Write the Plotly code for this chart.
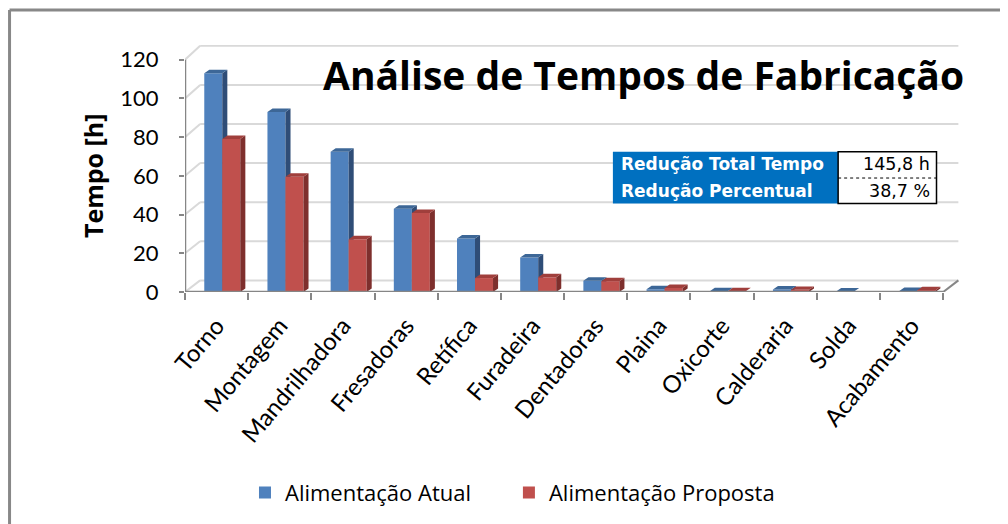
import plotly.graph_objects as go

# ---------------- data ----------------
categories = ["Torno", "Montagem", "Mandrilhadora", "Fresadoras", "Retífica", "Furadeira",
              "Dentadoras", "Plaina", "Oxicorte", "Calderaria", "Solda", "Acabamento"]
atual = [113, 93, 72.5, 43, 27.7, 17.8, 5.8, 1.4, 0.4, 1.3, 0.3, 0.5]
proposta = [79, 59.5, 27.3, 40.8, 7.2, 7.6, 5.6, 2.1, 0.4, 1.1, 0.0, 0.9]
y_ticks = [0, 20, 40, 60, 80, 100, 120]
series_names = ["Alimentação Atual", "Alimentação Proposta"]
summary_labels = ["Redução Total Tempo", "Redução Percentual"]
summary_values = ["145,8 h", "38,7 %"]
title_text = "Análise de Tempos de Fabricação"
y_title = "Tempo [h]"

# ---------------- geometry / style ----------------
W, H = 1008, 524
OFF = 8  # page body margin offset
L = 185 - OFF
T = 45.3 - OFF
BOTTOM_PX = 291.7 - OFF
RIGHT_PX = 959.2 - OFF
R = W - RIGHT_PX
B = H - BOTTOM_PX
PW, PH = W - L - R, H - T - B
X_RANGE = [-0.5, 11.75]
Y_RANGE = [0, 127.6]
BAR_W = 0.285
OFFS = [-0.195, 0.09]
DX, DY = 0.08, 1.8          # 3D depth of bars (data units)
WALL_DX, WALL_DY, WALL_K = 0.24, 6.0, 1.01

FONT = "Open Sans"
COLORS = {
    "front": ["#4F81BD", "#C0504D"],
    "top": ["#3D6797", "#A03F3C"],
    "side": ["#2F4D77", "#7E2F2D"],
}
AXIS_C = "#868686"
GRID_C = "#D9D9D9"
LEGENDS = ["legend", "legend2"]
LEGEND_X_PX = [245, 509]


def px_x(px):
    return (px - OFF - L) / PW


def px_y(py):
    return (H - B - (py - OFF)) / PH


idx = list(range(len(categories)))
fig = go.Figure()

for s, (vals, name) in enumerate(zip([atual, proposta], series_names)):
    xa = "x" if s == 0 else "x2"
    ya = "y" if s == 0 else "y2"
    side_x, side_y, top_x, top_y = [], [], [], []
    for i, v in zip(idx, vals):
        if v <= 0:
            continue
        x0 = i + OFFS[s]
        x1 = x0 + BAR_W
        side_x += [x1, x1 + DX, x1 + DX, x1, x1, None]
        side_y += [0, DY, v + DY, v, 0, None]
        top_x += [x0, x0 + DX, x1 + DX, x1, x0, None]
        top_y += [v, v + DY, v + DY, v, v, None]
    fig.add_trace(go.Bar(
        x=idx, y=vals, offset=OFFS[s], width=BAR_W, name=name,
        marker=dict(color=COLORS["front"][s], line=dict(width=0)),
        xaxis=xa, yaxis=ya, showlegend=True, legend=LEGENDS[s],
    ))
    fig.add_trace(go.Scatter(
        x=side_x, y=side_y, mode="lines", fill="toself", fillcolor=COLORS["side"][s],
        line=dict(width=0, color=COLORS["side"][s]), hoverinfo="skip", showlegend=False,
        xaxis=xa, yaxis=ya,
    ))
    fig.add_trace(go.Scatter(
        x=top_x, y=top_y, mode="lines", fill="toself", fillcolor=COLORS["top"][s],
        line=dict(width=0, color=COLORS["top"][s]), hoverinfo="skip", showlegend=False,
        xaxis=xa, yaxis=ya,
    ))

shapes = []
# back wall gridlines with diagonal connectors from the front axis
for v in y_ticks:
    yb = v * WALL_K + WALL_DY
    shapes.append(dict(type="line", xref="x", yref="y", x0=X_RANGE[0], y0=v,
                       x1=X_RANGE[0] + WALL_DX, y1=yb, line=dict(color=GRID_C, width=2), layer="below"))
    shapes.append(dict(type="line", xref="x", yref="y", x0=X_RANGE[0] + WALL_DX, y0=yb,
                       x1=11.5 + WALL_DX, y1=yb, line=dict(color=GRID_C, width=2), layer="below"))
# front floor edge + right diagonal
shapes.append(dict(type="line", xref="x", yref="y", x0=-0.5, y0=0, x1=11.5, y1=0,
                   line=dict(color=AXIS_C, width=2.5)))
shapes.append(dict(type="line", xref="x", yref="y", x0=11.5, y0=0, x1=11.5 + WALL_DX, y1=WALL_DY,
                   line=dict(color=AXIS_C, width=2)))
# vertical axis line
shapes.append(dict(type="line", xref="x", yref="y", x0=-0.5, y0=0, x1=-0.5, y1=max(y_ticks),
                   line=dict(color=AXIS_C, width=2.5)))
# outer frame (top and left)
shapes.append(dict(type="line", xref="paper", yref="paper", x0=px_x(9.5), y0=px_y(10.3),
                   x1=px_x(1020), y1=px_y(10.3), line=dict(color="#888888", width=3)))
shapes.append(dict(type="line", xref="paper", yref="paper", x0=px_x(9.5), y0=px_y(10.3),
                   x1=px_x(9.5), y1=px_y(540), line=dict(color="#888888", width=3)))
# summary table
shapes.append(dict(type="rect", xref="paper", yref="paper", x0=px_x(613), y0=px_y(151.7),
                   x1=px_x(838.3), y1=px_y(203.3), fillcolor="#0070C0", line=dict(width=0)))
shapes.append(dict(type="rect", xref="paper", yref="paper", x0=px_x(838.3), y0=px_y(151.7),
                   x1=px_x(936.7), y1=px_y(203.3), fillcolor="white",
                   line=dict(color="black", width=1.5)))
shapes.append(dict(type="line", xref="paper", yref="paper", x0=px_x(838.3), y0=px_y(178),
                   x1=px_x(936.7), y1=px_y(178), line=dict(color="black", width=1, dash="dot")))

annotations = [
    dict(text=f"<b>{title_text}</b>", xref="paper", yref="paper", x=px_x(644), y=px_y(75),
         showarrow=False, font=dict(family=FONT, size=39, color="black"),
         xanchor="center", yanchor="middle"),
    dict(text=f"<b>{y_title}</b>", xref="paper", yref="paper", x=px_x(93), y=px_y(176),
         showarrow=False, textangle=-90, font=dict(family=FONT, size=25, color="black"),
         xanchor="center", yanchor="middle"),
]
for k, (lab, val) in enumerate(zip(summary_labels, summary_values)):
    yc = [164.5, 191][k]
    annotations.append(dict(text=f"<b>{lab}</b>", xref="paper", yref="paper", x=px_x(619),
                            y=px_y(yc), showarrow=False, xanchor="left", yanchor="middle",
                            font=dict(family="DejaVu Sans", size=17, color="white")))
    annotations.append(dict(text=val, xref="paper", yref="paper", x=px_x(932),
                            y=px_y(yc), showarrow=False, xanchor="right", yanchor="middle",
                            font=dict(family="DejaVu Sans", size=17.5, color="black")))

legend_style = dict(orientation="h", y=px_y(492), xanchor="left", yanchor="middle",
                    font=dict(family=FONT, size=22, color="black"),
                    itemwidth=30, bgcolor="rgba(0,0,0,0)")

axis_common = dict(showgrid=False, zeroline=False, showline=False)
fig.update_layout(
    width=W, height=H,
    margin=dict(l=L, r=R, t=T, b=B, pad=0),
    paper_bgcolor="white", plot_bgcolor="white",
    barmode="overlay",
    font=dict(family=FONT, color="black"),
    xaxis=dict(range=X_RANGE, tickmode="array", tickvals=idx, ticktext=categories,
               tickangle=-50, ticks="", tickfont=dict(family="Lato", size=24, color="black"),
               ticklabelstandoff=14,
               minor=dict(tick0=-0.5, dtick=1, ticks="outside", ticklen=7, tickwidth=2,
                          tickcolor=AXIS_C),
               **axis_common),
    yaxis=dict(range=Y_RANGE, tickmode="array", tickvals=y_ticks, ticks="outside", ticklen=5,
               tickwidth=2, tickcolor=AXIS_C, tickfont=dict(family="Lato", size=22, color="black"),
               ticklabelstandoff=16, **axis_common),
    xaxis2=dict(range=X_RANGE, overlaying="x", matches="x", visible=False),
    yaxis2=dict(range=Y_RANGE, overlaying="y", matches="y", visible=False),
    legend=dict(x=px_x(LEGEND_X_PX[0]), **legend_style),
    legend2=dict(x=px_x(LEGEND_X_PX[1]), **legend_style),
    shapes=shapes,
    annotations=annotations,
)

fig.write_html("out.html")
